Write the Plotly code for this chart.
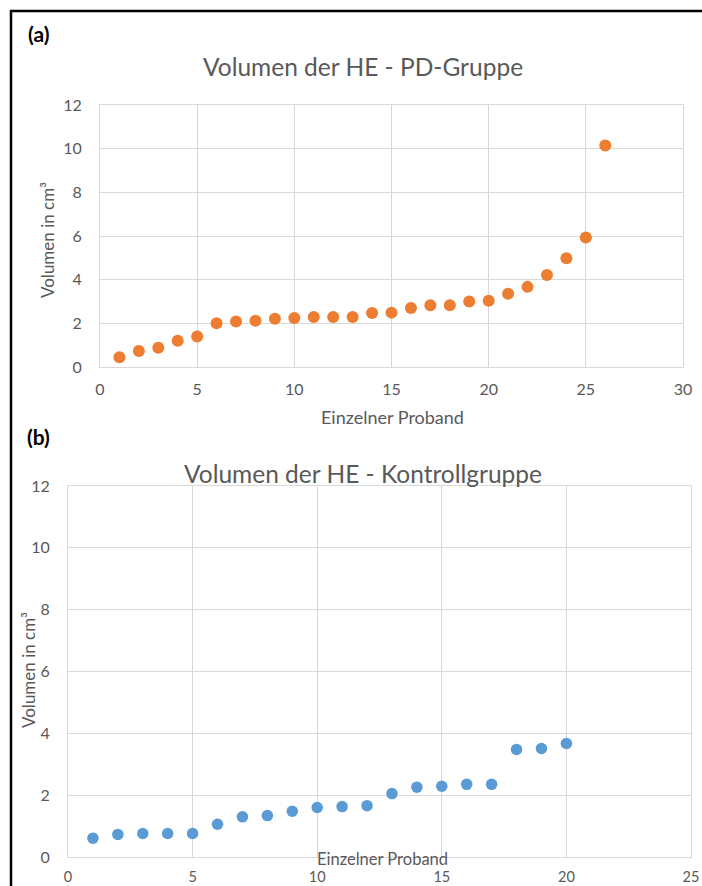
import plotly.graph_objects as go

W, H = 702, 886

# PD group: volume per individual subject (sorted ascending)
pd_proband = list(range(1, 27))
pd_volumen = [0.45, 0.73, 0.88, 1.20, 1.40, 2.00, 2.08, 2.12, 2.21, 2.24,
              2.29, 2.29, 2.29, 2.47, 2.49, 2.70, 2.83, 2.83, 3.00, 3.03,
              3.36, 3.67, 4.21, 4.98, 5.93, 10.15]

# Control group
kg_proband = list(range(1, 21))
kg_volumen = [0.61, 0.73, 0.76, 0.76, 0.76, 1.06, 1.30, 1.34, 1.48, 1.60,
              1.63, 1.66, 2.05, 2.26, 2.29, 2.35, 2.35, 3.48, 3.51, 3.67]

x_ticks_pd = [0, 5, 10, 15, 20, 25, 30]
x_ticks_kg = [0, 5, 10, 15, 20, 25]
y_ticks = [0, 2, 4, 6, 8, 10, 12]

FONT = "Lato, 'Open Sans', sans-serif"
GREY_TEXT = "#595959"
GRID = "#d9d9d9"


def px_x(p):
    return p / W


def px_y(p):
    return 1 - p / H


fig = go.Figure()

fig.add_trace(go.Scatter(
    x=pd_proband, y=pd_volumen, mode="markers",
    marker=dict(color="#ED7D31", size=12, line=dict(width=0)),
    xaxis="x", yaxis="y", showlegend=False,
))
fig.add_trace(go.Scatter(
    x=kg_proband, y=kg_volumen, mode="markers",
    marker=dict(color="#5B9BD5", size=11.5, line=dict(width=0)),
    xaxis="x2", yaxis="y2", showlegend=False,
))

axis_common = dict(
    showgrid=True, gridcolor=GRID, gridwidth=1,
    showline=True, linecolor=GRID, linewidth=1, mirror=True,
    zeroline=False, ticks="outside", tickcolor="rgba(0,0,0,0)",
    tickfont=dict(family=FONT, size=16, color=GREY_TEXT),
    fixedrange=True, automargin=False,
)

fig.update_layout(
    width=W, height=H,
    margin=dict(l=0, r=0, t=0, b=0),
    paper_bgcolor="white", plot_bgcolor="white",
    xaxis=dict(axis_common, domain=[px_x(100), px_x(683)], range=[0, 30],
               tickvals=x_ticks_pd, ticklen=8, anchor="y"),
    yaxis=dict(axis_common, domain=[px_y(367), px_y(105)], range=[0, 12],
               tickvals=y_ticks, ticklen=14, anchor="x"),
    xaxis2=dict(axis_common, domain=[px_x(68), px_x(691)], range=[0, 25],
                tickvals=x_ticks_kg, ticklen=7, anchor="y2",
                tickfont=dict(family=FONT, size=14.5, color=GREY_TEXT)),
    yaxis2=dict(axis_common, domain=[px_y(857), px_y(486)], range=[0, 12],
                tickvals=y_ticks, ticklen=14, anchor="x2"),
)


def label(text, x, y, size, angle=0, bold=False, color=GREY_TEXT):
    fig.add_annotation(
        text=f"<b>{text}</b>" if bold else text,
        x=px_x(x), y=px_y(y), xref="paper", yref="paper",
        xanchor="center", yanchor="middle", showarrow=False,
        textangle=angle, font=dict(family=FONT, size=size, color=color),
    )


# Panel (a)
label("(a)", 38, 33, 21, bold=True, color="black")
label("Volumen der HE - PD-Gruppe", 363, 67, 24.5)
label("Einzelner Proband", 392, 417, 18)
label("Volumen in cm³", 48, 240, 17, angle=-90)

# Panel (b)
label("(b)", 38, 436, 21, bold=True, color="black")
label("Volumen der HE - Kontrollgruppe", 363, 473, 24.5)
label("Einzelner Proband", 382, 859, 16.5)
label("Volumen in cm³", 28, 670, 17, angle=-90)

# Frame lines along the top and left edge
fig.add_shape(type="line", xref="paper", yref="paper",
              x0=px_x(10), y0=px_y(11), x1=1, y1=px_y(11),
              line=dict(color="black", width=2.5))
fig.add_shape(type="line", xref="paper", yref="paper",
              x0=px_x(11), y0=px_y(10), x1=px_x(11), y1=0,
              line=dict(color="black", width=2.5))

fig.write_html("out.html")
